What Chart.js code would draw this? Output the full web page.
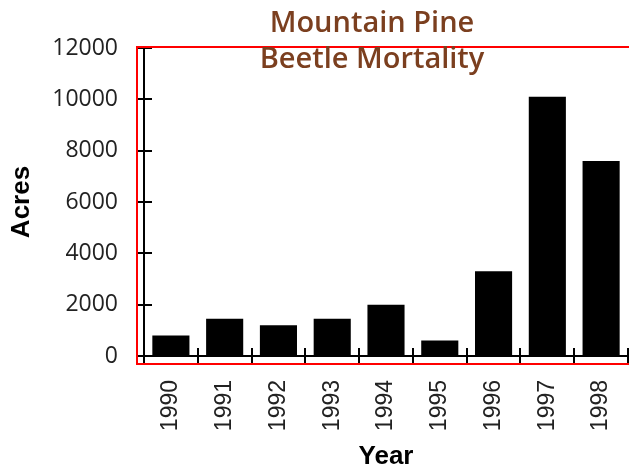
<!DOCTYPE html>
<html>
<head>
<meta charset="utf-8">
<script src="https://cdn.jsdelivr.net/npm/chart.js@4/dist/chart.umd.min.js"></script>
<style>
html,body{margin:0;padding:0;background:#fff;}
#wrap{width:629px;height:470px;position:relative;}
</style>
</head>
<body>
<div id="wrap"><canvas id="c"></canvas></div>
<script>
const years = ["1990","1991","1992","1993","1994","1995","1996","1997","1998"];
const acres = [800, 1450, 1200, 1450, 2000, 600, 3300, 10100, 7600];
const yTicks = [0, 2000, 4000, 6000, 8000, 10000, 12000];
const titleLines = ["Mountain Pine", "Beetle Mortality"];
const xTitle = "Year";
const yTitle = "Acres";

const decor = {
  id: 'decor',
  afterDraw(chart) {
    const ctx = chart.ctx;
    const a = chart.chartArea;
    const xs = chart.scales.x, ys = chart.scales.y;
    ctx.save();
    ctx.strokeStyle = '#000';
    ctx.lineWidth = 2;
    ctx.beginPath();
    yTicks.forEach(v => {
      const py = Math.round(ys.getPixelForValue(v));
      ctx.moveTo(a.left, py); ctx.lineTo(a.left + 8, py);
    });
    for (let i = 0; i <= years.length; i++) {
      const px = Math.round(xs.getPixelForValue(i - 0.5));
      ctx.moveTo(px, a.bottom); ctx.lineTo(px, a.bottom - 8);
    }
    ctx.stroke();
    ctx.strokeStyle = '#ff0000';
    ctx.lineWidth = 2;
    ctx.strokeRect(a.left - 7, a.top - 1, a.right - a.left + 10, a.bottom - a.top + 9);
    ctx.fillStyle = '#7b3f1f';
    ctx.font = '600 29px "Open Sans"';
    ctx.textAlign = 'center';
    ctx.textBaseline = 'middle';
    ctx.fillText(titleLines[0], 372, 24);
    ctx.fillText(titleLines[1], 372, 60);
    ctx.restore();
  }
};

new Chart(document.getElementById('c'), {
  type: 'bar',
  data: {
    labels: years,
    datasets: [{
      data: acres,
      backgroundColor: '#000',
      borderWidth: 0,
      barPercentage: 0.69,
      categoryPercentage: 1
    }]
  },
  options: {
    responsive: true,
    maintainAspectRatio: false,
    animation: false,
    layout: { padding: { top: 48, right: 1, left: 0, bottom: 0 } },
    plugins: { legend: { display: false }, tooltip: { enabled: false }, title: { display: false } },
    scales: {
      x: {
        afterFit: s => { s.height = 114; s.paddingLeft = 0; s.paddingRight = 0; },
        grid: { display: true, drawOnChartArea: false, drawTicks: true, tickLength: 7, color: '#000', lineWidth: 2, offset: true },
        border: { display: true, color: '#000', width: 2 },
        ticks: { color: '#222', font: { family: '"Liberation Sans"', size: 23 }, minRotation: 90, maxRotation: 90, padding: 17, autoSkip: false },
        title: { display: true, text: xTitle, color: '#000', font: { family: '"Liberation Sans"', size: 26, weight: 'bold', lineHeight: 1 }, padding: { top: 0, bottom: 0 } }
      },
      y: {
        min: 0, max: 12000,
        afterFit: s => { s.width = 144; },
        afterBuildTicks: s => { s.ticks = yTicks.map(v => ({ value: v })); },
        grid: { display: true, drawOnChartArea: false, drawTicks: true, tickLength: 6, color: '#000', lineWidth: 2 },
        border: { display: true, color: '#000', width: 2 },
        ticks: { color: '#222', font: { family: '"Open Sans"', size: 23 }, padding: 20, callback: v => String(v) },
        title: { display: true, text: yTitle, color: '#000', font: { family: '"Liberation Sans"', size: 26, weight: 'bold', lineHeight: 1 }, padding: { top: 9, bottom: 0 } }
      }
    }
  },
  plugins: [decor]
});
</script>
</body>
</html>
